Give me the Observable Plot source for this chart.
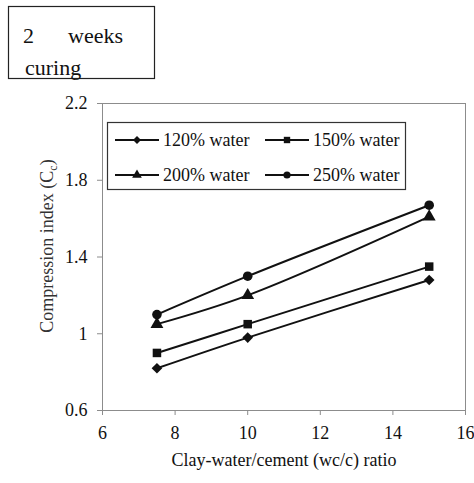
<!DOCTYPE html>
<html>
<head>
<meta charset="utf-8">
<script src="https://cdn.jsdelivr.net/npm/d3@7"></script>
<script src="https://cdn.jsdelivr.net/npm/@observablehq/plot@0.6"></script>
<style>
  body { margin: 0; background: #fff; }
  #chart { width: 474px; height: 483px; }
  #chart svg, #chart svg text { font-family: "Liberation Serif", "Times New Roman", serif; }
</style>
</head>
<body>
<div id="chart"></div>
<script>
// Compression index vs. clay-water/cement ratio, 2 weeks curing
const ratio = [7.5, 10, 15];
const series = ["120% water", "150% water", "200% water", "250% water"];
const cc120 = [0.82, 0.98, 1.28];
const cc150 = [0.90, 1.05, 1.35];
const cc200 = [1.05, 1.20, 1.61];
const cc250 = [1.10, 1.30, 1.67];
const symbols = ["diamond2", "square", "triangle", "circle"];
const xTicks = [6, 8, 10, 12, 14, 16];
const yTicks = [0.6, 1, 1.4, 1.8, 2.2];

const rows = [];
[cc120, cc150, cc200, cc250].forEach((vals, i) =>
  vals.forEach((v, j) => rows.push({ series: series[i], ratio: ratio[j], cc: v }))
);

const font = "Liberation Serif, Times New Roman, serif";

const chart = Plot.plot({
  width: 474,
  height: 483,
  marginLeft: 102,
  marginRight: 9,
  marginTop: 103,
  marginBottom: 73,
  style: { fontFamily: font, fontSize: "18px", background: "#fff", color: "#000" },
  x: { domain: [6, 16] },
  y: { domain: [0.6, 2.2] },
  symbol: { domain: series, range: symbols },
  marks: [
    Plot.frame({ stroke: "#8c8c8c" }),
    Plot.axisX({
      ticks: xTicks, tickFormat: d => String(d), tickSize: 5, tickPadding: 11,
      stroke: "#8c8c8c", fill: "#111",
      label: "Clay-water/cement (wc/c) ratio", labelAnchor: "center", labelArrow: "none",
      labelOffset: 55
    }),
    Plot.axisY({
      ticks: yTicks, tickFormat: d => String(d), tickSize: 5, tickPadding: 10,
      stroke: "#8c8c8c", fill: "#111", label: null
    }),
    Plot.line(rows, {
      x: "ratio", y: "cc", z: "series", curve: "catmull-rom",
      stroke: "#111", strokeWidth: 2
    }),
    Plot.dot(rows, {
      x: "ratio", y: "cc", symbol: "series", fill: "#111", stroke: "none", r: 4.8
    })
  ]
});

document.getElementById("chart").appendChild(chart);

const svg = d3.select(chart);
svg.attr("font-family", font);

// Y axis title with subscript
const yt = svg.append("text")
  .attr("transform", "translate(53,246) rotate(-90)")
  .attr("text-anchor", "middle")
  .attr("font-size", 18)
  .attr("fill", "#333");
yt.append("tspan").text("Compression index (C");
yt.append("tspan").attr("dy", 4).attr("font-size", 12).text("c");
yt.append("tspan").attr("dy", -4).text(")");

// Curing period note box
const note = svg.append("g").attr("font-size", 22).attr("fill", "#111").attr("text-anchor", "start");
note.append("rect").attr("x", 8.5).attr("y", 6.5).attr("width", 146).attr("height", 72)
  .attr("fill", "#fff").attr("stroke", "#222").attr("stroke-width", 1.2);
note.append("text").attr("x", 23).attr("y", 43).text("2");
note.append("text").attr("x", 68).attr("y", 43).text("weeks");
note.append("text").attr("x", 25).attr("y", 75).text("curing");

// Legend
const symbolTypes = {
  diamond2: d3.symbolDiamond2, square: d3.symbolSquare,
  triangle: d3.symbolTriangle, circle: d3.symbolCircle
};
const lg = svg.append("g").attr("font-size", 18).attr("fill", "#111").attr("text-anchor", "start");
lg.append("rect").attr("x", 107.5).attr("y", 122.5).attr("width", 298).attr("height", 67)
  .attr("fill", "#fff").attr("stroke", "#333").attr("stroke-width", 1.2);
const cols = [115, 265];
const rowsY = [140, 175];
series.forEach((name, i) => {
  const x0 = cols[i % 2], cy = rowsY[Math.floor(i / 2)];
  lg.append("line").attr("x1", x0).attr("x2", x0 + 44).attr("y1", cy).attr("y2", cy)
    .attr("stroke", "#111").attr("stroke-width", 2);
  lg.append("path")
    .attr("d", d3.symbol().type(symbolTypes[symbols[i]]).size(Math.PI * 3.6 * 3.6)())
    .attr("transform", `translate(${x0 + 22},${cy})`)
    .attr("fill", "#111");
  lg.append("text").attr("x", x0 + 48).attr("y", cy + 6).text(name);
});
</script>
</body>
</html>
